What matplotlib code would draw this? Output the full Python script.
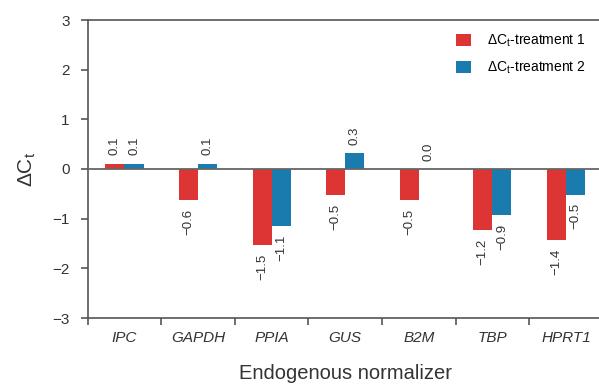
import matplotlib
matplotlib.use('Agg')
import matplotlib.pyplot as plt
import numpy as np

plt.rcParams['font.family'] = ['Liberation Sans', 'DejaVu Sans']
plt.rcParams['mathtext.fontset'] = 'custom'
plt.rcParams['mathtext.rm'] = 'Liberation Sans'
plt.rcParams['mathtext.it'] = 'Liberation Sans:italic'

genes = ['IPC', 'GAPDH', 'PPIA', 'GUS', 'B2M', 'TBP', 'HPRT1']
treatment1 = [0.11, -0.63, -1.53, -0.53, -0.63, -1.23, -1.43]
treatment2 = [0.11, 0.11, -1.15, 0.32, 0.0, -0.93, -0.52]
labels1 = ['0.1', '\u22120.6', '\u22121.5', '\u22120.5', '\u22120.5', '\u22121.2', '\u22121.4']
labels2 = ['0.1', '0.1', '\u22121.1', '0.3', '0.0', '\u22120.9', '\u22120.5']
yticks = [-3, -2, -1, 0, 1, 2, 3]

red = '#DD3434'
blue = '#1A7BAE'
grey = '#555555'

fig = plt.figure(figsize=(5.99, 3.86), dpi=100)
ax = fig.add_axes([87.7 / 599, 68 / 386, 515 / 599, 298 / 386])

x = np.arange(len(genes)) + 0.5
w = 0.26
b1 = ax.bar(x - w / 2, treatment1, w, color=red, label='ΔC$_{\\mathrm{t}}$-treatment 1', zorder=2)
b2 = ax.bar(x + w / 2, treatment2, w, color=blue, label='ΔC$_{\\mathrm{t}}$-treatment 2', zorder=2)
ax.axhline(0, color='#666666', lw=1.3, zorder=3)

# value labels, rotated, above positive bars and below negative ones
for bars, labs in [(b1, labels1), (b2, labels2)]:
    for rect, lab in zip(bars, labs):
        h = rect.get_height()
        cx = rect.get_x() + rect.get_width() / 2
        if h >= 0:
            ax.annotate(lab, (cx, h), xytext=(0, 6), textcoords='offset points',
                        rotation=90, ha='center', va='bottom', fontsize=9.5, color='#333333')
        else:
            ax.annotate(lab, (cx, h), xytext=(0, -6), textcoords='offset points',
                        rotation=90, ha='center', va='top', fontsize=9.5, color='#333333')

ax.set_xlim(0, len(genes))
ax.set_ylim(-3, 3)
ax.set_yticks(yticks)
ax.set_yticklabels([str(t).replace('-', '\u2212') for t in yticks], fontsize=11, color='#333333')
ax.set_xticks(np.arange(len(genes) + 1))
ax.set_xticklabels([])
ax.set_xticks(x, minor=True)
ax.set_xticklabels(genes, minor=True, fontsize=11, style='italic', color='#333333')
ax.tick_params(axis='x', which='minor', length=0, pad=9)
ax.tick_params(axis='x', which='major', length=5, width=1.2, color=grey)
ax.tick_params(axis='y', length=5, width=1.2, color=grey, pad=8)

for s in ax.spines.values():
    s.set_color(grey)
    s.set_linewidth(1.2)

ax.set_xlabel('Endogenous normalizer', fontsize=14.5, color='#333333', labelpad=14)
ax.set_ylabel('ΔC$_{\\mathrm{t}}$', fontsize=15, color='#333333', labelpad=10)

ax.legend(loc='upper left', bbox_to_anchor=(456 / 599, 1 - 33 / 386), bbox_transform=fig.transFigure,
          frameon=False, fontsize=10, handlelength=1.1, handleheight=1.0, handletextpad=1.1,
          labelspacing=0.75, borderpad=0, borderaxespad=0)

fig.savefig('out.png', dpi=100)
